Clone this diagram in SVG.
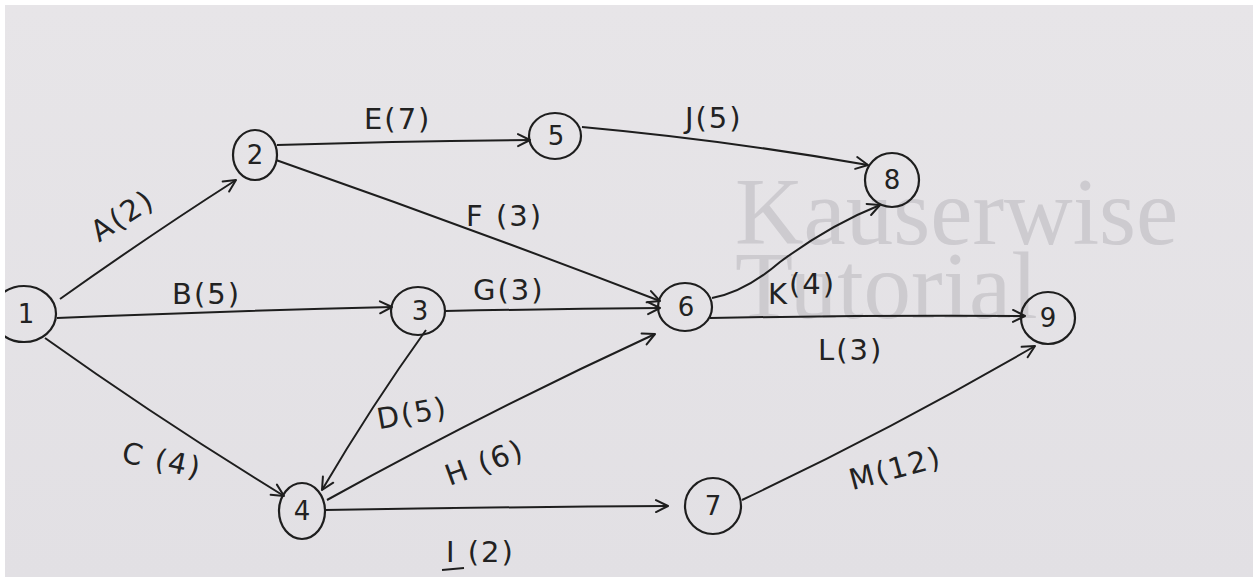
<svg xmlns="http://www.w3.org/2000/svg" width="1260" height="577" viewBox="0 0 1260 577">
<defs>
<marker id="arr" viewBox="-14 -8 16 16" markerWidth="16" markerHeight="16" refX="0" refY="0" orient="auto" markerUnits="userSpaceOnUse">
<path d="M -12 -6 L 0 0 L -12 6" fill="none" stroke="#1e1e1e" stroke-width="2" stroke-linecap="round" stroke-linejoin="round"/>
</marker>
<clipPath id="board"><rect x="5" y="5" width="1248" height="572"/></clipPath>
<linearGradient id="bg" x1="0" y1="0" x2="0" y2="1">
<stop offset="0" stop-color="#e7e5e8"/>
<stop offset="1" stop-color="#e2e0e4"/>
</linearGradient>
</defs>
<style>
.node ellipse{fill:none;stroke:#1e1e1e;stroke-width:2.2}
.num{font-family:"DejaVu Sans",sans-serif;font-size:26px;fill:#222;text-anchor:middle}
.edge{fill:none;stroke:#1e1e1e;stroke-width:2;marker-end:url(#arr)}
.plain{fill:none;stroke:#1e1e1e;stroke-width:2}
.lbl{font-family:"DejaVu Sans",sans-serif;font-size:29px;fill:#222;letter-spacing:2px}
.wm{font-family:"Liberation Serif",serif;font-size:95px;fill:#c9c7cc;opacity:0.85}
</style>
<rect x="0" y="0" width="1260" height="577" fill="#ffffff"/>
<rect x="5" y="5" width="1248" height="572" fill="url(#bg)"/>
<g id="watermark">
<text class="wm" x="735" y="244">Kauserwise</text>
<text class="wm" x="735" y="318">Tutorial</text>
</g>
<g clip-path="url(#board)">
<g id="connectors">
<path id="A" class="edge" d="M 60 299 Q 150 235 236 180"/>
<path id="B" class="edge" d="M 57 318 Q 220 311 392 307"/>
<path id="C" class="edge" d="M 45 338 Q 160 420 284 496"/>
<path id="D" class="edge" d="M 426 330 Q 372 405 322 490"/>
<path id="E" class="edge" d="M 277 145 Q 400 141 530 140"/>
<path id="F" class="edge" d="M 276 160 Q 470 228 660 301"/>
<path id="G" class="edge" d="M 445 311 Q 550 309 660 308"/>
<path id="H" class="edge" d="M 327 500 Q 490 410 655 334"/>
<path id="I" class="edge" d="M 325 510 Q 500 507 668 506"/>
<path id="J" class="edge" d="M 582 127 Q 725 140 868 165"/>
<path id="K" class="edge" d="M 712 298 Q 745 292 780 262 Q 830 225 880 205"/>
<path id="L" class="edge" d="M 710 318 Q 870 315 1025 316"/>
<path id="M" class="edge" d="M 742 500 Q 890 430 1035 346"/>
</g>
<g id="n1" class="node"><ellipse cx="24" cy="314" rx="32" ry="28"/><text class="num" x="26" y="323">1</text></g>
<g id="n2" class="node"><ellipse cx="255" cy="155" rx="22" ry="25"/><text class="num" x="255" y="164">2</text></g>
<g id="n3" class="node"><ellipse cx="418" cy="311" rx="27" ry="24"/><text class="num" x="420" y="320">3</text></g>
<g id="n4" class="node"><ellipse cx="302" cy="511" rx="23" ry="28"/><text class="num" x="302" y="520">4</text></g>
<g id="n5" class="node"><ellipse cx="555" cy="136" rx="26" ry="23"/><text class="num" x="556" y="145">5</text></g>
<g id="n6" class="node"><ellipse cx="685" cy="307" rx="27" ry="24"/><text class="num" x="686" y="316">6</text></g>
<g id="n7" class="node"><ellipse cx="713" cy="506" rx="28" ry="28"/><text class="num" x="713" y="515">7</text></g>
<g id="n8" class="node"><ellipse cx="892" cy="180" rx="27" ry="27"/><text class="num" x="892" y="189">8</text></g>
<g id="n9" class="node"><ellipse cx="1048" cy="318" rx="27" ry="26"/><text class="num" x="1048" y="327">9</text></g>
<g id="labels">
<text class="lbl" x="364" y="129">E(7)</text>
<text class="lbl" x="685" y="128">J(5)</text>
<text class="lbl" transform="translate(128 224) rotate(-33)" text-anchor="middle">A(2)</text>
<text class="lbl" x="466" y="226">F (3)</text>
<text class="lbl" x="172" y="304">B(5)</text>
<text class="lbl" x="473" y="300">G(3)</text>
<text class="lbl" x="768" y="304">K<tspan dy="-10">(4)</tspan></text>
<text class="lbl" x="818" y="360">L(3)</text>
<text class="lbl" transform="translate(414 423) rotate(-10)" text-anchor="middle">D(5)</text>
<text class="lbl" transform="translate(160 470) rotate(12)" text-anchor="middle">C (4)</text>
<text class="lbl" transform="translate(488 472) rotate(-20)" text-anchor="middle">H (6)</text>
<text class="lbl" transform="translate(898 478) rotate(-15)" text-anchor="middle">M(12)</text>
<text class="lbl" x="446" y="562">I (2)</text>
<line class="plain" x1="442" y1="570" x2="464" y2="568"/>
</g>
</g>
</svg>
